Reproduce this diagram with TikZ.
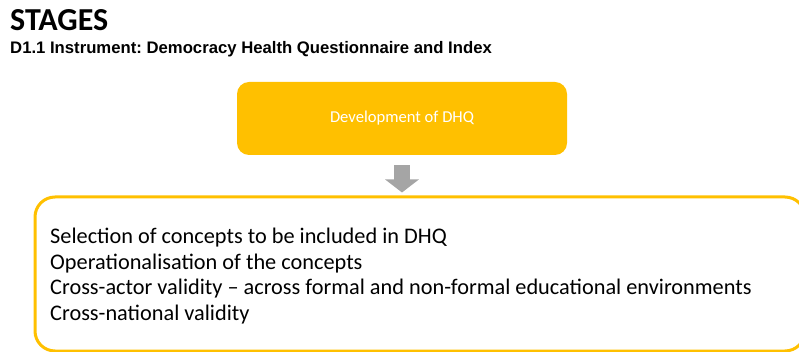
\documentclass[tikz,border=0pt]{standalone}
\usepackage{fontspec}
\setmainfont{Carlito}
\newfontfamily\arialfont{Liberation Sans}
\usetikzlibrary{arrows.meta}
\definecolor{dhqorange}{HTML}{FFC000}
\definecolor{dhqgray}{HTML}{A5A5A5}
\begin{document}
\frenchspacing
\begin{tikzpicture}[x=1pt,y=-1pt]
      \tikzstyle{every node}=[inner sep=0pt]
      \tikzstyle{stagebox}=[fill=dhqorange, rounded corners=12pt, minimum width=330pt, minimum height=73pt]
      \tikzstyle{stepsbox}=[draw=dhqorange, line width=3pt, rounded corners=20pt, minimum width=770pt, minimum height=154pt]
      \useasboundingbox (0,0) rectangle (799,352);

      \node[anchor=base west, font=\fontsize{32}{36}\selectfont\bfseries] (title) at (10,31) {STAGES};
      \node[anchor=base west, font=\arialfont\fontsize{16.7}{20}\selectfont\bfseries] (subtitle) at (10,54) {D1.1 Instrument: Democracy Health Questionnaire and Index};

      \node[stagebox, text=white, font=\fontsize{16.6}{20}\selectfont] (dev) at (402,118.5) {Development of DHQ};
      \node[stepsbox] (steps) at (420,274) {};
      \node[anchor=base west, align=left, font=\fontsize{22.3}{25.5}\selectfont] (list) at (50,320) {Selection of concepts to be included in DHQ\\
        Operationalisation of the concepts\\
        Cross-actor validity -- across formal and non-formal educational environments\\
        Cross-national validity};

      \draw[dhqgray, line width=16pt, shorten <=10pt, shorten >=3pt, -{Triangle[width=33pt,length=13pt]}] (dev.south) -- (dev.south |- steps.north);
    \end{tikzpicture}
\end{document}
